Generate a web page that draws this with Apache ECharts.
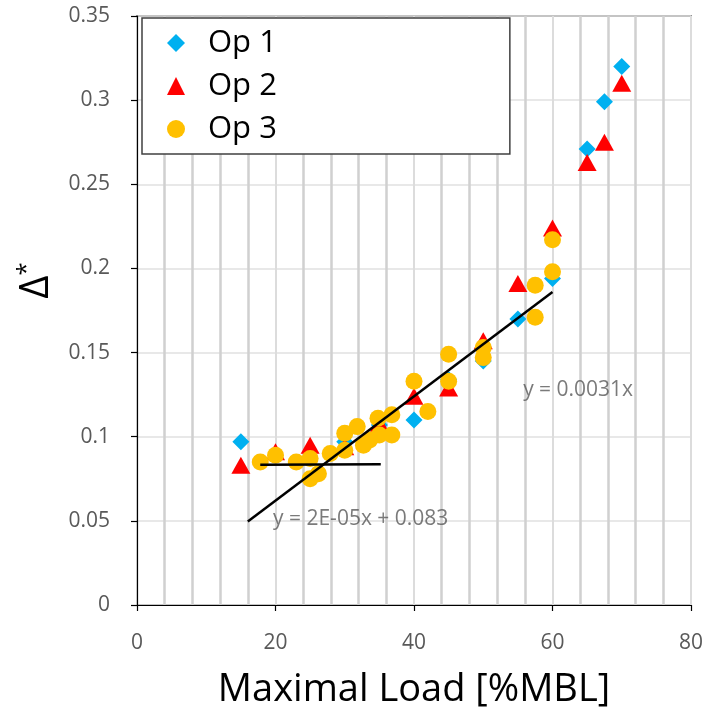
<!DOCTYPE html>
<html>
<head>
<meta charset="utf-8">
<script src="https://cdn.jsdelivr.net/npm/echarts@6/dist/echarts.min.js"></script>
<style>
  html, body { margin: 0; padding: 0; background: #fff; }
  #chart { width: 705px; height: 712px; }
</style>
</head>
<body>
<div id="chart"></div>
<script>
// Measured deflection ratio vs. maximal load, three operators
const seriesNames = ['Op 1', 'Op 2', 'Op 3'];

const op1X = [15, 30, 35, 40, 45, 50, 55, 60, 65, 67.5, 70];
const op1Y = [0.097, 0.097, 0.107, 0.110, 0.134, 0.145, 0.170, 0.194, 0.271, 0.299, 0.320];

const op2X = [15, 20, 25, 30, 35, 40, 45, 50, 55, 60, 65, 67.5, 70];
const op2Y = [0.083, 0.091, 0.095, 0.094, 0.108, 0.124, 0.129, 0.157, 0.191, 0.224, 0.263, 0.275, 0.310];

const op3X = [17.8, 20, 23, 25, 25, 26.2, 27.9, 30, 30, 31.8, 32.7, 33.6, 34.8, 35, 36.8, 36.8, 40, 42, 45, 45, 50, 50, 57.5, 57.5, 60, 60];
const op3Y = [0.085, 0.089, 0.085, 0.087, 0.075, 0.078, 0.090, 0.102, 0.092, 0.106, 0.095, 0.098, 0.111, 0.101, 0.113, 0.101, 0.133, 0.115, 0.149, 0.133, 0.153, 0.147, 0.190, 0.171, 0.198, 0.217];

// Linear trend lines: y = slope * x + intercept over the fitted load range
const fitSlopes = [0.0031, 0.00002];
const fitIntercepts = [0, 0.083];
const fitRanges = [[16, 60], [17.8, 35.2]];
const fitLabels = ['y = 0.0031x', 'y = 2E-05x + 0.083'];

// Where each equation label sits, in data units
const fitLabelAnchors = [[63.7, 0.128], [32.3, 0.051]];

const xTicks = { min: 0, max: 80, step: 20 };
const yTicks = { min: 0, max: 0.35, step: 0.05 };

const colors = ['#00B0F0', '#FF0000', '#FFC000'];
const symbols = ['diamond', 'triangle', 'circle'];
const symbolSizes = [[17, 17], [19, 17], 17];

function zip(xs, ys) { return xs.map((x, i) => [x, ys[i]]); }

const pointSets = [zip(op1X, op1Y), zip(op2X, op2Y), zip(op3X, op3Y)];

const labelColor = '#595959';
const fontFamily = '"Open Sans", "Noto Sans", sans-serif';

const scatterSeries = pointSets.map((pts, i) => ({
  name: seriesNames[i],
  type: 'scatter',
  data: pts,
  symbol: symbols[i],
  symbolSize: symbolSizes[i],
  itemStyle: { color: colors[i], opacity: 1 },
  z: 2 + i,
  silent: true
}));

const trendSeries = fitSlopes.map((m, i) => ({
  type: 'line',
  data: fitRanges[i].map(x => [x, m * x + fitIntercepts[i]]),
  symbol: 'none',
  lineStyle: { color: '#000', width: 2.5 },
  z: 6,
  silent: true,
  animation: false
}));

const labelSeries = {
  type: 'scatter',
  data: fitLabelAnchors.map((p, i) => ({ value: p, name: fitLabels[i] })),
  symbolSize: 1,
  itemStyle: { color: 'rgba(0,0,0,0)' },
  label: {
    show: true,
    position: 'inside',
    formatter: p => p.name,
    color: labelColor,
    fontFamily: fontFamily,
    fontSize: 21
  },
  z: 7,
  silent: true
};

const chart = echarts.init(document.getElementById('chart'), null, { renderer: 'canvas' });

chart.setOption({
  animation: false,
  backgroundColor: '#fff',
  textStyle: { fontFamily: fontFamily },
  grid: {
    left: 137, right: 14, top: 16, bottom: 107,
    outerBoundsMode: 'none',
    containLabel: false,
    show: true,
    borderColor: '#404040',
    borderWidth: 1.5,
    backgroundColor: 'transparent'
  },
  legend: {
    data: seriesNames,
    orient: 'vertical',
    left: 142,
    top: 18,
    padding: [8, 233, 8, 25],
    itemGap: 9,
    itemWidth: 18,
    itemHeight: 18,
    backgroundColor: '#fff',
    borderColor: '#404040',
    borderWidth: 1.5,
    borderRadius: 0,
    textStyle: {
      fontSize: 31,
      color: '#000',
      fontFamily: fontFamily,
      lineHeight: 34,
      padding: [0, 0, 0, 18]
    },
    z: 10
  },
  xAxis: {
    type: 'value',
    min: xTicks.min,
    max: xTicks.max,
    interval: xTicks.step,
    name: 'Maximal Load [%MBL]',
    nameLocation: 'middle',
    nameGap: 66,
    nameTextStyle: { fontSize: 38, color: '#000', fontFamily: fontFamily },
    axisLine: { show: true, onZero: false, lineStyle: { color: '#000', width: 1.2 } },
    axisTick: { show: true, inside: false, length: 6, lineStyle: { color: '#000', width: 1.2 } },
    axisLabel: { fontSize: 21, color: labelColor, margin: 28 },
    splitLine: { show: true, lineStyle: { color: '#dcdcdc', width: 2 } },
    minorTick: { show: false, splitNumber: 5 },
    minorSplitLine: { show: true, lineStyle: { color: '#d0d0d0', width: 2.5 } }
  },
  yAxis: {
    type: 'value',
    min: yTicks.min,
    max: yTicks.max,
    interval: yTicks.step,
    name: '{d|Δ}{s|*}',
    nameLocation: 'middle',
    nameRotate: 90,
    nameGap: 78,
    nameTextStyle: {
      color: '#000',
      padding: [0, 0, 0, 60],
      rich: {
        d: { fontSize: 40, color: '#000', fontFamily: fontFamily, lineHeight: 44 },
        s: { fontSize: 24, color: '#000', fontFamily: fontFamily, lineHeight: 44, verticalAlign: 'top' }
      }
    },
    axisLine: { show: true, onZero: false, lineStyle: { color: '#000', width: 1.2 } },
    axisTick: { show: true, inside: false, length: 6, lineStyle: { color: '#000', width: 1.2 } },
    axisLabel: { fontSize: 21, color: labelColor, margin: 27 },
    splitLine: { show: true, lineStyle: { color: '#e0e0e0', width: 1.5 } }
  },
  series: [...scatterSeries, ...trendSeries, labelSeries]
});
</script>
</body>
</html>
